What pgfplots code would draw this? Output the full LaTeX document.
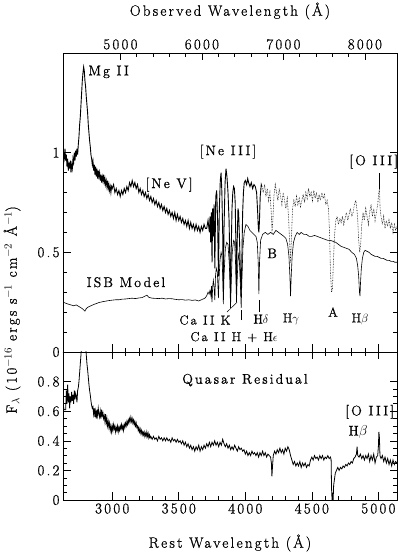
\documentclass[border=0pt]{standalone}
\usepackage{fontspec}
\setmainfont{Latin Modern Roman}[LetterSpace=15, FakeBold=0.8]
\usepackage{pgfplots}
\usepackage{pgfplotstable}
\pgfplotsset{compat=1.18}

\pgfplotstableread{
x y
2630 0.99
2635 0.95
2640 0.97
2645 1.02
2650 0.96
2655 0.99
2660 0.93
2665 0.97
2670 0.91
2675 0.95
2680 0.92
2685 0.96
2690 0.90
2695 0.94
2700 0.92
2705 0.97
2710 0.95
2715 1.00
2720 0.96
2725 1.01
2730 0.98
2735 1.02
2740 0.99
2745 1.04
2750 1.08
2755 1.14
2760 1.18
2765 1.24
2770 1.30
2775 1.36
2780 1.40
2785 1.43
2790 1.41
2795 1.36
2800 1.33
2805 1.28
2810 1.24
2815 1.20
2820 1.14
2825 1.10
2830 1.06
2835 1.03
2840 0.99
2845 0.97
2850 0.94
2855 0.96
2860 0.91
2865 0.94
2870 0.89
2875 0.93
2880 0.88
2885 0.92
2890 0.87
2895 0.91
2900 0.88
2905 0.90
2910 0.86
2915 0.89
2920 0.85
2925 0.88
2930 0.86
2935 0.89
2940 0.85
2945 0.87
2950 0.84
2955 0.86
2960 0.83
2965 0.86
2970 0.82
2975 0.84
2980 0.81
2985 0.83
2990 0.80
2995 0.83
3000 0.82
3010 0.84
3020 0.80
3030 0.82
3040 0.79
3050 0.81
3060 0.78
3070 0.81
3080 0.79
3090 0.82
3100 0.80
3110 0.83
3120 0.81
3130 0.85
3140 0.83
3150 0.86
3160 0.83
3170 0.85
3180 0.82
3190 0.84
3200 0.80
3210 0.82
3220 0.79
3230 0.81
3240 0.78
3250 0.80
3260 0.77
3270 0.79
3280 0.76
3290 0.78
3300 0.75
3310 0.77
3320 0.74
3330 0.76
3340 0.73
3350 0.75
3360 0.72
3370 0.74
3380 0.71
3390 0.73
3400 0.70
3410 0.72
3420 0.69
3430 0.71
3440 0.68
3450 0.70
3460 0.67
3470 0.70
3480 0.66
3490 0.69
3500 0.66
3510 0.68
3520 0.65
3530 0.67
3540 0.64
3550 0.66
3560 0.63
3570 0.66
3580 0.62
3590 0.65
3600 0.62
3610 0.64
3620 0.61
3630 0.64
3640 0.61
3650 0.63
3660 0.60
3670 0.63
3680 0.61
3690 0.64
3700 0.62
3710 0.62
3720 0.66
3730 0.60
3735 0.68
3740 0.55
3745 0.70
3750 0.45
3755 0.72
3760 0.58
3765 0.74
3771 0.42
3778 0.78
3785 0.81
3792 0.66
3798 0.38
3805 0.72
3812 0.86
3818 0.90
3824 0.80
3830 0.60
3835 0.32
3840 0.62
3848 0.85
3855 0.92
3862 0.88
3870 0.80
3878 0.66
3884 0.45
3889 0.30
3894 0.50
3900 0.72
3906 0.80
3912 0.83
3918 0.82
3924 0.75
3929 0.55
3934 0.35
3939 0.55
3945 0.72
3950 0.70
3957 0.55
3963 0.40
3969 0.28
3975 0.50
3980 0.70
3986 0.80
3992 0.85
4000 0.86
4010 0.84
4018 0.87
4025 0.85
4035 0.83
4045 0.85
4055 0.82
4065 0.84
4075 0.83
4085 0.80
4093 0.70
4098 0.62
4102 0.60
4106 0.65
4112 0.78
4120 0.84
4125 0.83
}\obssolid

\pgfplotstableread{
x y
4125 0.83
4135 0.80
4145 0.84
4155 0.78
4165 0.82
4175 0.76
4185 0.80
4195 0.70
4201 0.60
4207 0.66
4215 0.78
4225 0.84
4235 0.80
4245 0.76
4255 0.82
4265 0.78
4275 0.74
4285 0.80
4295 0.76
4305 0.72
4315 0.77
4325 0.68
4333 0.55
4340 0.45
4347 0.58
4355 0.72
4365 0.76
4375 0.73
4385 0.78
4395 0.74
4405 0.77
4415 0.73
4425 0.76
4435 0.79
4445 0.75
4455 0.80
4465 0.77
4475 0.82
4485 0.78
4495 0.80
4505 0.76
4515 0.81
4525 0.77
4535 0.80
4545 0.75
4555 0.79
4565 0.76
4575 0.80
4585 0.77
4595 0.79
4605 0.74
4615 0.76
4625 0.72
4633 0.60
4640 0.40
4648 0.30
4655 0.32
4662 0.45
4670 0.58
4680 0.66
4690 0.68
4700 0.64
4710 0.67
4720 0.65
4730 0.68
4740 0.64
4750 0.67
4760 0.70
4770 0.66
4780 0.69
4790 0.72
4800 0.68
4810 0.70
4820 0.74
4830 0.76
4838 0.72
4845 0.66
4852 0.56
4860 0.50
4868 0.55
4875 0.64
4885 0.70
4895 0.66
4905 0.72
4915 0.68
4925 0.64
4935 0.70
4945 0.74
4955 0.68
4965 0.72
4975 0.66
4985 0.70
4995 0.74
5003 0.80
5008 0.82
5013 0.72
5020 0.68
5030 0.64
5040 0.68
5050 0.62
5060 0.66
5070 0.63
5080 0.67
5090 0.62
5100 0.65
5110 0.60
5120 0.64
5130 0.61
5140 0.63
}\obsdotted

\pgfplotstableread{
x y
2630 0.250
2650 0.245
2670 0.240
2690 0.236
2710 0.232
2730 0.236
2750 0.228
2765 0.222
2780 0.215
2795 0.205
2805 0.218
2820 0.226
2840 0.232
2860 0.238
2880 0.243
2900 0.248
2925 0.252
2950 0.255
2975 0.258
3000 0.260
3025 0.262
3050 0.262
3075 0.265
3100 0.266
3125 0.268
3150 0.270
3175 0.268
3200 0.271
3225 0.273
3245 0.280
3261 0.285
3275 0.274
3300 0.270
3325 0.269
3350 0.268
3375 0.270
3400 0.266
3425 0.268
3450 0.267
3475 0.264
3500 0.262
3525 0.263
3550 0.260
3575 0.262
3600 0.259
3625 0.261
3650 0.256
3670 0.262
3690 0.268
3700 0.272
3712 0.285
3720 0.300
3728 0.290
3735 0.310
3742 0.280
3746 0.330
3750 0.250
3755 0.330
3760 0.360
3766 0.320
3771 0.260
3776 0.380
3782 0.420
3790 0.400
3795 0.320
3798 0.270
3802 0.360
3810 0.460
3818 0.500
3825 0.480
3830 0.380
3835 0.240
3840 0.380
3850 0.520
3860 0.550
3870 0.540
3880 0.440
3885 0.330
3889 0.220
3894 0.340
3902 0.500
3912 0.560
3920 0.550
3926 0.460
3930 0.350
3934 0.250
3938 0.350
3945 0.460
3952 0.500
3958 0.420
3964 0.320
3969 0.220
3974 0.350
3982 0.520
3992 0.600
4005 0.640
4020 0.630
4035 0.610
4050 0.600
4065 0.590
4080 0.580
4090 0.550
4097 0.450
4102 0.290
4107 0.450
4115 0.560
4130 0.590
4150 0.600
4170 0.590
4190 0.600
4210 0.590
4230 0.610
4250 0.600
4270 0.590
4290 0.580
4305 0.570
4318 0.540
4328 0.480
4335 0.380
4340 0.280
4345 0.380
4352 0.480
4362 0.550
4375 0.580
4390 0.600
4405 0.590
4420 0.600
4440 0.590
4460 0.590
4480 0.580
4500 0.580
4520 0.585
4540 0.580
4560 0.575
4580 0.570
4600 0.565
4620 0.560
4640 0.560
4660 0.555
4680 0.550
4700 0.540
4720 0.530
4740 0.525
4760 0.520
4780 0.515
4800 0.500
4820 0.490
4835 0.470
4845 0.430
4852 0.380
4858 0.300
4862 0.280
4866 0.350
4872 0.420
4880 0.470
4890 0.500
4900 0.510
4915 0.505
4930 0.500
4945 0.490
4960 0.485
4975 0.480
4990 0.480
5005 0.475
5020 0.470
5035 0.470
5050 0.465
5065 0.460
5080 0.460
5095 0.455
5110 0.455
5125 0.450
5140 0.450
}\model

\pgfplotstableread{
x y
2630 0.72
2635 0.62
2640 0.61
2645 0.61
2650 0.61
2655 0.74
2660 0.65
2665 0.78
2670 0.66
2675 0.72
2680 0.62
2685 0.70
2690 0.66
2695 0.73
2700 0.67
2705 0.71
2710 0.65
2715 0.74
2720 0.68
2725 0.72
2730 0.70
2735 0.66
2740 0.74
2745 0.76
2750 0.80
2755 0.86
2760 0.92
2765 0.98
2770 1.05
2775 1.12
2780 1.16
2785 1.20
2790 1.17
2795 1.10
2800 1.04
2805 0.98
2810 0.92
2815 0.88
2820 0.83
2825 0.78
2830 0.74
2835 0.71
2840 0.67
2845 0.64
2850 0.62
2855 0.63
2860 0.58
2865 0.62
2870 0.56
2875 0.60
2880 0.55
2885 0.61
2890 0.57
2895 0.62
2900 0.58
2905 0.56
2910 0.60
2915 0.55
2920 0.61
2925 0.57
2930 0.59
2935 0.55
2940 0.57
2945 0.53
2950 0.58
2955 0.52
2960 0.55
2965 0.50
2970 0.53
2975 0.49
2980 0.52
2985 0.47
2990 0.50
2995 0.46
3000 0.50
3005 0.47
3010 0.51
3015 0.48
3020 0.50
3025 0.46
3030 0.49
3035 0.47
3040 0.50
3045 0.46
3050 0.49
3055 0.47
3060 0.50
3065 0.48
3070 0.51
3075 0.48
3080 0.50
3085 0.47
3090 0.51
3095 0.49
3100 0.52
3105 0.50
3110 0.53
3115 0.51
3120 0.54
3125 0.52
3130 0.55
3135 0.53
3140 0.56
3145 0.53
3150 0.55
3155 0.52
3160 0.54
3165 0.51
3170 0.53
3175 0.50
3180 0.52
3185 0.49
3190 0.50
3195 0.47
3200 0.49
3205 0.46
3210 0.48
3215 0.45
3220 0.47
3225 0.44
3230 0.46
3235 0.44
3240 0.46
3245 0.43
3250 0.45
3255 0.43
3260 0.46
3265 0.43
3270 0.45
3275 0.42
3280 0.44
3285 0.42
3290 0.43
3300 0.41
3310 0.43
3320 0.41
3330 0.42
3340 0.40
3350 0.43
3360 0.41
3370 0.42
3380 0.40
3390 0.42
3400 0.40
3410 0.42
3420 0.40
3430 0.41
3440 0.39
3450 0.42
3460 0.40
3470 0.41
3480 0.39
3490 0.41
3500 0.39
3510 0.40
3520 0.38
3530 0.40
3540 0.37
3550 0.39
3560 0.36
3570 0.38
3580 0.35
3590 0.37
3600 0.34
3610 0.36
3620 0.33
3630 0.36
3640 0.34
3650 0.37
3660 0.33
3670 0.36
3680 0.34
3690 0.37
3700 0.35
3710 0.38
3720 0.36
3730 0.39
3740 0.36
3750 0.39
3760 0.37
3770 0.40
3780 0.37
3790 0.39
3800 0.36
3810 0.39
3820 0.37
3830 0.41
3840 0.38
3850 0.36
3860 0.38
3870 0.35
3880 0.37
3890 0.34
3900 0.36
3910 0.34
3920 0.37
3930 0.35
3940 0.33
3950 0.36
3960 0.34
3970 0.35
3980 0.33
3990 0.34
4000 0.31
4010 0.33
4020 0.30
4030 0.32
4040 0.30
4050 0.33
4060 0.31
4070 0.32
4080 0.30
4090 0.32
4100 0.29
4110 0.32
4120 0.30
4130 0.33
4140 0.30
4150 0.32
4160 0.29
4170 0.31
4180 0.30
4190 0.29
4196 0.25
4200 0.16
4204 0.22
4210 0.30
4220 0.33
4230 0.31
4240 0.34
4250 0.32
4260 0.35
4270 0.32
4280 0.34
4290 0.31
4300 0.35
4310 0.33
4320 0.36
4330 0.34
4340 0.30
4350 0.27
4360 0.24
4370 0.26
4380 0.23
4390 0.25
4400 0.23
4410 0.26
4420 0.22
4430 0.25
4440 0.23
4450 0.25
4460 0.22
4470 0.24
4480 0.23
4490 0.27
4500 0.29
4510 0.27
4520 0.30
4530 0.28
4540 0.29
4550 0.27
4560 0.30
4570 0.28
4580 0.30
4590 0.27
4600 0.29
4610 0.28
4620 0.30
4630 0.28
4640 0.29
4645 0.27
4648 0.08
4652 0.00
4656 0.05
4660 0.00
4664 0.10
4670 0.14
4676 0.18
4685 0.20
4695 0.22
4705 0.20
4715 0.22
4725 0.21
4735 0.23
4745 0.22
4755 0.24
4765 0.23
4775 0.25
4785 0.24
4795 0.26
4805 0.25
4815 0.28
4825 0.29
4835 0.31
4840 0.36
4845 0.30
4855 0.29
4865 0.31
4875 0.28
4885 0.30
4895 0.27
4905 0.30
4915 0.28
4925 0.31
4935 0.26
4945 0.30
4955 0.27
4965 0.31
4975 0.25
4985 0.29
4995 0.30
5000 0.36
5004 0.46
5008 0.42
5012 0.30
5020 0.28
5030 0.30
5040 0.26
5050 0.29
5060 0.25
5070 0.28
5080 0.24
5090 0.27
5100 0.23
5110 0.27
5120 0.24
5130 0.26
5140 0.25
}\resid

\pgfplotsset{
  every axis/.append style={
    scale only axis, width=334bp,
    xmin=2630, xmax=5140,
    tick align=inside,
    major tick length=7.5bp, minor tick length=4bp,
    tick style={black, line width=0.6pt},
    axis line style={line width=0.6pt},
    /pgf/number format/assume math mode=true,
    /pgf/number format/set thousands separator={},
    tick label style={font=\fontsize{15}{15}\selectfont},
    label style={font=\fontsize{15}{15}\selectfont},
  }
}

\begin{document}
\begin{tikzpicture}
\path[use as bounding box] (-63bp,-54bp) rectangle (335bp,500bp);

% lower panel
\begin{axis}[
  at={(0bp,0bp)}, anchor=south west,
  height=148bp,
  ymin=0, ymax=1,
  xtick={3000,3500,4000,4500,5000},
  minor x tick num=4,
  ytick={0,0.2,0.4,0.6,0.8},
  minor y tick num=3,
  xtick pos=both, xticklabel pos=left,
  ytick pos=both, yticklabel pos=left,
  yticklabel style={/pgf/number format/.cd, fixed, precision=1},
]
\addplot[black, line width=0.8pt] table[x=x,y=y] {\resid};
\node[font=\fontsize{14}{14}\selectfont] at (axis cs:3998,0.81) {Quasar Residual};
\node[font=\fontsize{14}{14}\selectfont] at (axis cs:4935,0.595) {[O III]};
\node[font=\fontsize{14}{14}\selectfont] at (axis cs:4847,0.46) {H$\beta$};
\end{axis}

% upper panel
\begin{axis}[
  at={(0bp,148bp)}, anchor=south west,
  height=299bp,
  ymin=0, ymax=1.5,
  xtick={3000,3500,4000,4500,5000},
  minor x tick num=4,
  xtick pos=left, xticklabels={},
  ytick={0,0.5,1},
  minor y tick num=4,
  ytick pos=both, yticklabel pos=left,
]
\addplot[black, line width=0.6pt] table[x=x,y=y] {\model};
\addplot[black, line width=0.9pt] table[x=x,y=y] {\obssolid};
\addplot[black, line width=0.6pt, densely dotted] table[x=x,y=y] {\obsdotted};
\begin{scope}[font=\fontsize{14}{14}\selectfont]
\node[anchor=west] at (axis cs:2795,1.405) {Mg II};
\node at (axis cs:3427,0.84) {[Ne V]};
\node at (axis cs:3870,1.005) {[Ne III]};
\node at (axis cs:4965,0.955) {[O III]};
\node at (axis cs:3103,0.35) {ISB Model};
\node at (axis cs:4201,0.495) {B};
\node[font=\fontsize{13}{13}\selectfont] at (axis cs:3697,0.16) {Ca II K};
\node[font=\fontsize{13}{13}\selectfont] at (axis cs:3915,0.075) {Ca II H + H$\epsilon$};
\node[font=\fontsize{13}{13}\selectfont] at (axis cs:4118,0.165) {H$\delta$};
\node[font=\fontsize{13}{13}\selectfont] at (axis cs:4343,0.165) {H$\gamma$};
\node[font=\fontsize{13}{13}\selectfont] at (axis cs:4659,0.20) {A};
\node[font=\fontsize{13}{13}\selectfont] at (axis cs:4862,0.165) {H$\beta$};
\end{scope}
\draw[line width=0.5pt] (axis cs:3862,0.20) -- (axis cs:3938,0.25);
\draw[line width=0.5pt] (axis cs:3968,0.16) -- (axis cs:3968,0.21);
\draw[line width=0.5pt] (axis cs:4103,0.20) -- (axis cs:4103,0.26);
\draw[line width=0.5pt] (axis cs:5005,0.82) -- (axis cs:5005,0.90);
\end{axis}

% observed wavelength axis
\begin{axis}[
  at={(0bp,148bp)}, anchor=south west,
  height=299bp,
  xmin=4295, xmax=8394,
  ymin=0, ymax=1.5,
  hide y axis,
  xtick={5000,6000,7000,8000},
  minor x tick num=4,
  xtick pos=right, xticklabel pos=right,
]
\end{axis}

\node[font=\fontsize{15}{15}\selectfont] at (167bp,489bp) {Observed Wavelength (Å)};
\node[font=\fontsize{15}{15}\selectfont] at (167bp,-43bp) {Rest Wavelength (Å)};
\node[font=\fontsize{15}{15}\selectfont, rotate=90] at (-51bp,190bp) {F$_\lambda$ (10$^{-16}$ ergs s$^{-1}$ cm$^{-2}$ Å$^{-1}$)};
\end{tikzpicture}
\end{document}
